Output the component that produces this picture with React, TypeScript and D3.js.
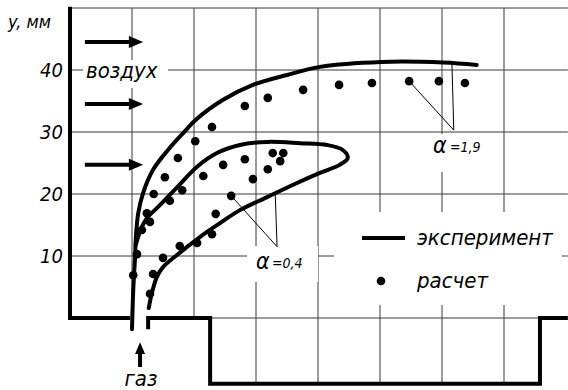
import React, { useEffect, useRef } from "react";
import * as d3 from "d3";

// all values in mm: x along the wall, y up from the wall
type P = [number, number];

// experiment, alpha = 1,9 (outer contour)
const expLean: P[] = [
  [10.0, -1.8], [10.2, 4.5], [10.5, 10.0], [10.6, 12.6], [11.0, 16.9], [11.8, 20.2],
  [13.4, 23.9], [15.8, 27.1], [18.7, 30.3], [20.2, 31.9], [24.7, 35.2], [29.5, 37.6],
  [35.0, 39.2], [40.3, 40.5], [50.2, 41.3], [60.2, 41.2], [65.6, 40.8],
];

// experiment, alpha = 0,4 (closed tongue, grows out of the outer stem)
const expRich: P[] = [
  [10.6, 11.8], [11.5, 14.5], [12.4, 16.1], [14.5, 18.2], [17.3, 21.1], [20.5, 24.4],
  [23.7, 26.6], [27.4, 27.9], [31.8, 28.4], [37.1, 28.2], [41.5, 27.9], [44.0, 27.1],
  [44.8, 25.8], [43.5, 24.7], [40.3, 23.4], [36.0, 21.5], [31.8, 19.5], [27.4, 17.4],
  [24.2, 15.3], [21.0, 13.1], [17.3, 10.2], [15.0, 8.2], [14.0, 6.6], [13.2, 4.0],
  [12.7, 1.6],
];

// calculation, alpha = 1,9
const calcLean: P[] = [
  [63.7, 37.9], [59.5, 38.2], [54.7, 38.2], [48.7, 37.9], [43.4, 37.6], [37.6, 36.8],
  [31.9, 35.5], [28.2, 34.2], [22.9, 30.8], [20.2, 28.5], [17.4, 25.8], [15.3, 22.7],
  [13.5, 20.0], [12.4, 16.9], [11.6, 14.2], [10.8, 10.3], [10.2, 6.9],
];

// calculation, alpha = 0,4
const calcRich: P[] = [
  [34.4, 26.6], [32.7, 26.6], [33.9, 25.3], [31.9, 24.0], [29.5, 22.4], [28.2, 25.6],
  [24.7, 24.7], [21.5, 22.9], [18.1, 20.6], [16.1, 18.9], [12.9, 15.5], [26.0, 19.7],
  [23.5, 16.8], [22.9, 13.5], [20.5, 12.1], [17.7, 11.6], [15.0, 9.7], [13.4, 7.1],
  [12.9, 3.9],
];

const yTicks = [10, 20, 30, 40];
const gridX = [10, 20, 30, 40, 50, 60, 70];
const gridY = [10, 20, 30, 40, 50];
const pitGridX = [30, 40, 50, 60, 70];

// wall and nozzle outline
const leftWall: P[] = [[0, 50.2], [0, 0], [9.7, 0]];
const rightWall: P[] = [[12.6, -1.8], [12.6, 0], [22.6, 0], [22.6, -10.6], [75.8, -10.6], [75.8, 0], [80.3, 0]];

const airArrowsY = [44.5, 34.5, 24.7];

export default function App() {
  const ref = useRef<SVGSVGElement>(null);

  useEffect(() => {
    const svg = d3.select(ref.current);
    svg.selectAll("*").remove();

    const x = d3.scaleLinear().domain([0, 80]).range([70, 566]);
    const y = d3.scaleLinear().domain([0, 50]).range([318, 8]);
    const font = "'DejaVu Sans Condensed', 'DejaVu Sans', sans-serif";

    // grid
    const grid = svg.append("g").attr("stroke", "#3a3a3a").attr("stroke-width", 1);
    grid.selectAll(".gx").data(gridX).join("line").attr("class", "gx")
      .attr("x1", d => x(d)).attr("x2", d => x(d)).attr("y1", y(0)).attr("y2", y(50));
    grid.selectAll(".gy").data(gridY).join("line").attr("class", "gy")
      .attr("x1", x(0)).attr("x2", x(80.3)).attr("y1", d => y(d)).attr("y2", d => y(d));
    grid.selectAll(".px").data(pitGridX).join("line").attr("class", "px")
      .attr("x1", d => x(d)).attr("x2", d => x(d)).attr("y1", y(0)).attr("y2", y(-10.6));
    grid.append("line").attr("x1", x(22.6)).attr("x2", x(75.8)).attr("y1", y(0)).attr("y2", y(0));

    // white patches behind labels (grid is broken there)
    const patches = [[83, 60, 85, 28], [430, 134, 55, 38], [247, 246, 71, 36], [334, 212, 228, 93]];
    svg.append("g").selectAll("rect").data(patches).join("rect")
      .attr("x", d => d[0]).attr("y", d => d[1]).attr("width", d => d[2]).attr("height", d => d[3])
      .attr("fill", "#fff");

    // curves
    const curve = d3.line<P>().x(d => x(d[0])).y(d => y(d[1])).curve(d3.curveCatmullRom.alpha(0.5));
    const poly = d3.line<P>().x(d => x(d[0])).y(d => y(d[1]));
    [expLean, expRich].forEach(c =>
      svg.append("path").attr("d", curve(c)).attr("fill", "none").attr("stroke", "#000")
        .attr("stroke-width", 4).attr("stroke-linecap", "round").attr("stroke-linejoin", "round"));

    [leftWall, rightWall].forEach(w =>
      svg.append("path").attr("d", poly(w)).attr("fill", "none").attr("stroke", "#000")
        .attr("stroke-width", 4).attr("stroke-linejoin", "miter"));

    // dots
    svg.append("g").selectAll("circle").data([...calcLean, ...calcRich]).join("circle")
      .attr("cx", d => x(d[0])).attr("cy", d => y(d[1])).attr("r", 4.3).attr("fill", "#000");

    // leaders
    const leaders: [P, P][] = [
      [calcLean[2], [61.9, 30.3]], [[61.9, 30.3], [61.6, 41.1]],
      [calcRich[11], [33.4, 11.5]], [[33.4, 11.5], [33.1, 20.0]],
    ];
    svg.append("g").selectAll("line").data(leaders).join("line")
      .attr("x1", d => x(d[0][0])).attr("y1", d => y(d[0][1]))
      .attr("x2", d => x(d[1][0])).attr("y2", d => y(d[1][1]))
      .attr("stroke", "#000").attr("stroke-width", 1);

    // air arrows
    const arrows = svg.append("g");
    airArrowsY.forEach(v => {
      const yy = y(v);
      arrows.append("line").attr("x1", x(2.4)).attr("x2", x(10)).attr("y1", yy).attr("y2", yy)
        .attr("stroke", "#000").attr("stroke-width", 4);
      arrows.append("path").attr("d", `M${x(9.5)},${yy - 6}L${x(11.8)},${yy}L${x(9.5)},${yy + 6}Z`).attr("fill", "#000");
    });
    // gas arrow
    const gx = x(11.3);
    arrows.append("line").attr("x1", gx).attr("x2", gx).attr("y1", y(-7.9)).attr("y2", y(-5.2))
      .attr("stroke", "#000").attr("stroke-width", 4);
    arrows.append("path").attr("d", `M${gx - 5},${y(-5.8)}L${gx},${y(-3.9)}L${gx + 5},${y(-5.8)}Z`).attr("fill", "#000");

    // text
    const txt = (s: string, tx: number, ty: number, size: number, anchor = "start") =>
      svg.append("text").attr("x", tx).attr("y", ty).attr("font-family", font).attr("font-style", "italic")
        .attr("font-weight", 300).attr("font-size", size).attr("text-anchor", anchor).attr("fill", "#000").text(s);

    yTicks.forEach(t => txt(String(t), 63, y(t) + 7, 20, "end"));
    txt("y, мм", 8, 28, 18);
    txt("воздух", 86, 78, 22);
    txt("газ", 141, 386, 22, "middle");
    txt("α", 433, 153, 23);
    txt("=1,9", 450, 152, 14);
    txt("α", 256, 269, 23);
    txt("=0,4", 272, 268, 14);

    // legend
    svg.append("line").attr("x1", 362).attr("x2", 405).attr("y1", 238).attr("y2", 238)
      .attr("stroke", "#000").attr("stroke-width", 4);
    txt("эксперимент", 417, 245, 22);
    svg.append("circle").attr("cx", 381).attr("cy", 281).attr("r", 4.3).attr("fill", "#000");
    txt("расчет", 417, 288, 22);
  }, []);

  return (
    <svg ref={ref} width={568} height={390}
      style={{ position: "absolute", left: 0, top: 0, background: "#fff" }} />
  );
}
